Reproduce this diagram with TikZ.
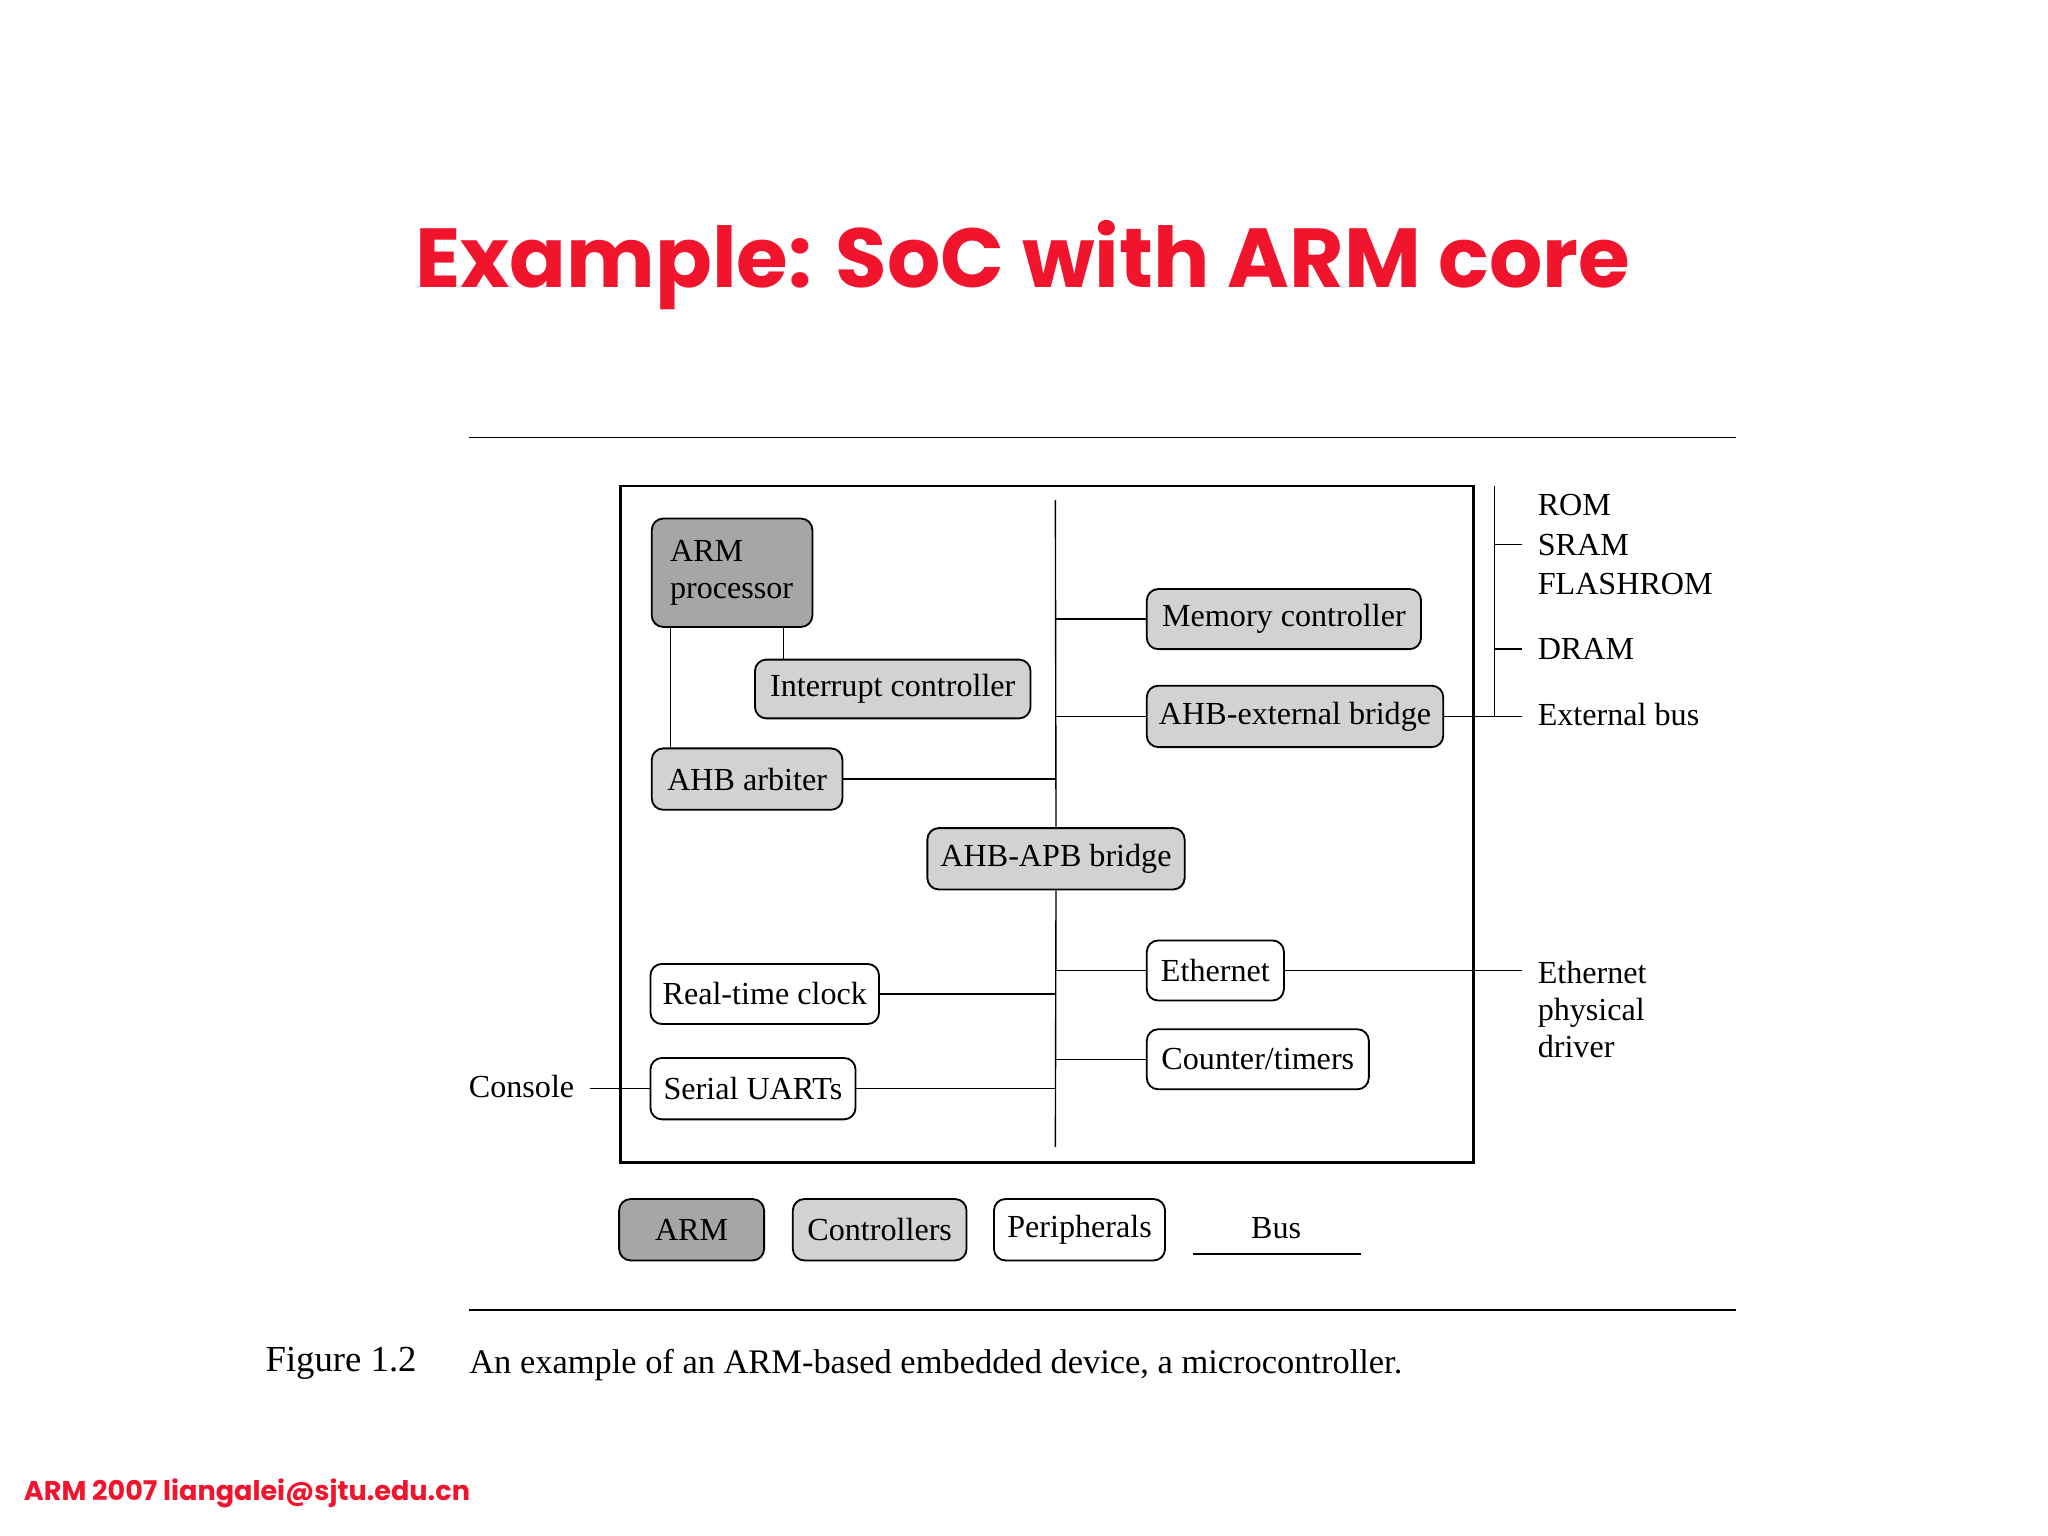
\documentclass[tikz,border=0pt]{standalone}
\usepackage{fontspec}
\setmainfont{Liberation Serif}
\newfontfamily\titlefont{Poppins}
\usetikzlibrary{positioning}
\definecolor{armgray}{HTML}{A6A6A6}
\definecolor{ctrlgray}{HTML}{D2D2D2}
\definecolor{slidered}{HTML}{F0142D}
\begin{document}
\begin{tikzpicture}[x=0.02cm,y=-0.02cm,
      font=\fontsize{14}{16}\selectfont,
      unit style/.style={rectangle,rounded corners=5pt,draw=black,thick,inner sep=2pt},
      arm style/.style={unit style,fill=armgray},
      ctrl style/.style={unit style,fill=ctrlgray},
      per style/.style={unit style,fill=white},
      label style/.style={anchor=west,inner sep=0pt}
      ]
      \useasboundingbox (0,0) rectangle (1568,1176);

      % title and footer
      \node[text=slidered,font=\titlefont\bfseries\fontsize{36.5}{40}\selectfont] (title) at (783,203) {Example: SoC with ARM core};
      \node[label style,text=slidered,font=\titlefont\bfseries\fontsize{11.8}{13}\selectfont] (footer) at (18,1143) {ARM 2007 liangalei@sjtu.edu.cn};

      % rules
      \draw[semithick] (359,335) -- (1329,335);
      \draw[semithick] (359,1003) -- (1329,1003);

      % chip frame
      \draw[very thick] (475,372) rectangle (1128,890);

      \node[arm style,minimum width=123*0.02cm,minimum height=83*0.02cm,align=left,text width=1.9cm] (arm) at (560.5,438.5) {ARM\\processor};
      \node[ctrl style,minimum width=211*0.02cm,minimum height=45*0.02cm] (intc) at (683.5,527.5) {Interrupt controller};
      \node[ctrl style,minimum width=146*0.02cm,minimum height=47*0.02cm] (arb) at (572,596.5) {AHB arbiter};
      \node[ctrl style,minimum width=210*0.02cm,minimum height=46*0.02cm] (mem) at (983,474) {Memory controller};
      \node[ctrl style,minimum width=227*0.02cm,minimum height=47*0.02cm] (ext) at (991.5,548.5) {AHB-external bridge};
      \node[ctrl style,minimum width=197*0.02cm,minimum height=47*0.02cm] (apb) at (808.5,657.5) {AHB-APB bridge};
      \node[per style,minimum width=105*0.02cm,minimum height=46*0.02cm] (eth) at (930.5,743) {Ethernet};
      \node[per style,minimum width=175*0.02cm,minimum height=46*0.02cm] (rtc) at (585.5,761) {Real-time clock};
      \node[per style,minimum width=170*0.02cm,minimum height=46*0.02cm] (ctr) at (963,811) {Counter/timers};
      \node[per style,minimum width=157*0.02cm,minimum height=47*0.02cm] (uart) at (576.5,833.5) {Serial UARTs};

      % bus
      \coordinate (bustop) at (808,383);
      \coordinate (busbot) at (808,878);
      \draw[semithick] (bustop) -- (apb.north);
      \draw[semithick] (apb.south) -- (busbot);
      \draw[semithick] (mem.west) -- (mem.west -| bustop);
      \draw[semithick] (ext.west) -- (ext.west -| bustop);
      \draw[semithick] (arb.east) -- (arb.east -| bustop);
      \draw[semithick] (eth.west) -- (eth.west -| bustop);
      \draw[semithick] (rtc.east) -- (rtc.east -| bustop);
      \draw[semithick] (ctr.west) -- (ctr.west -| bustop);
      \draw[semithick] (uart.east) -- (uart.east -| bustop);
      \draw[semithick] ([xshift=0.3cm]arm.south west) -- ([xshift=0.3cm]arm.south west |- arb.north);
      \draw[semithick] ([xshift=-0.46cm]arm.south east) -- ([xshift=-0.46cm]arm.south east |- intc.north);

      % external side
      \coordinate (extbus) at (1165,548);
      \coordinate (memtop) at (1144,372);
      \draw[semithick] (ext.east) -- (extbus |- ext.east);
      \draw[semithick] (memtop) -- (memtop |- ext.east);
      \draw[semithick] (1144,417) -- (1165,417);
      \draw[semithick] (1144,497) -- (1165,497);
      \node[label style] (rom) at (1177,387) {ROM};
      \node[label style] (sram) at (1177,417) {SRAM};
      \node[label style] (flash) at (1177,447) {FLASHROM};
      \node[label style] (dram) at (1177,497) {DRAM};
      \node[label style] (extlbl) at (1177,547) {External bus};
      \coordinate (ethend) at (1165,742);
      \draw[semithick] (eth.east) -- (ethend |- eth.east);
      \node[label style,align=left] (phy) at (1177,773) {Ethernet\\physical\\driver};
      \node[anchor=east,inner sep=0pt] (console) at (440,832) {Console};
      \coordinate (conend) at (452,832);
      \draw[semithick] (conend |- uart.west) -- (uart.west);

      % legend
      \node[arm style,minimum width=111*0.02cm,minimum height=47*0.02cm] (legarm) at (529.5,941.5) {ARM};
      \node[ctrl style,minimum width=133*0.02cm,minimum height=47*0.02cm] (legctrl) at (673.5,941.5) {Controllers};
      \node[per style,minimum width=131*0.02cm,minimum height=47*0.02cm] (legper) at (826.5,941.5) {Peripherals};
      \node (legbus) at (977,940) {Bus};
      \draw[semithick] (913,960) -- (1042,960);

      % caption
      \node[label style,font=\fontsize{16}{18}\selectfont] (fig) at (203,1044) {Figure 1.2};
      \node[label style,font=\fontsize{15}{17}\selectfont] (cap) at (359,1045) {An example of an ARM-based embedded device, a microcontroller.};
\end{tikzpicture}
\end{document}
